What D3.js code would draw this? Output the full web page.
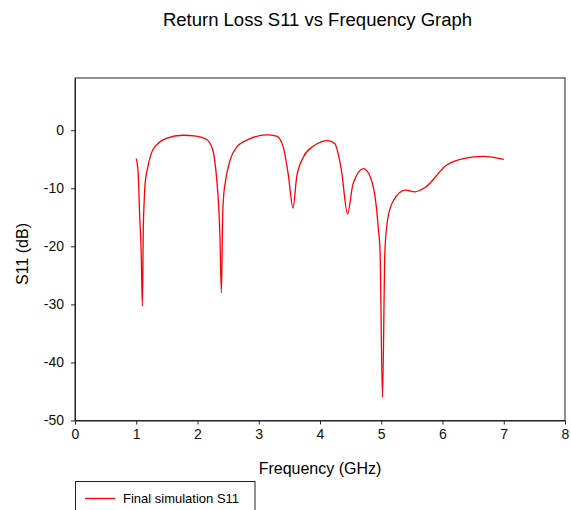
<!DOCTYPE html>
<html>
<head>
<meta charset="utf-8">
<script src="https://cdn.jsdelivr.net/npm/d3@7"></script>
<style>
  html, body { margin: 0; padding: 0; background: #fff; }
  svg { display: block; font-family: "Liberation Sans", Arial, sans-serif; }
</style>
</head>
<body>
<svg id="chart" width="571" height="510"></svg>
<script>
const title = "Return Loss S11 vs Frequency Graph";
const xLabel = "Frequency (GHz)";
const yLabel = "S11 (dB)";
const seriesName = "Final simulation S11";
const xTicks = [0, 1, 2, 3, 4, 5, 6, 7, 8];
const yTicks = [0, -10, -20, -30, -40, -50];

const freq = [1.00, 1.03, 1.057, 1.08, 1.10, 1.115, 1.13, 1.144, 1.19, 1.27, 1.49, 1.76, 1.98, 2.15, 2.25, 2.32, 2.34, 2.365, 2.39, 2.41, 2.43, 2.45, 2.53, 2.64, 2.85, 3.13, 3.29, 3.40, 3.48, 3.56, 3.62, 3.73, 3.89, 4.13, 4.24, 4.35, 4.45, 4.54, 4.71, 4.82, 4.92, 4.95, 4.98, 5.02, 5.06, 5.11, 5.20, 5.39, 5.55, 5.71, 6.07, 6.34, 6.67, 7.00];
const s11  = [-4.9, -7.2, -15.0, -20.7, -30.3, -17.0, -12.1, -9.2, -6.3, -3.4, -1.4, -0.86, -1.0, -1.6, -3.4, -9.2, -12.0, -17.8, -28.0, -15.0, -10.9, -9.2, -5.2, -2.9, -1.5, -0.8, -1.03, -2.9, -7.5, -13.4, -8.0, -4.6, -2.76, -1.78, -2.3, -6.9, -14.4, -9.2, -6.6, -8.0, -13.2, -16.7, -20.7, -46.0, -20.7, -15.0, -12.1, -10.3, -10.6, -9.9, -6.0, -4.9, -4.5, -5.0];

const data = freq.map((f, i) => ({ f, v: s11[i] }));

const svg = d3.select("#chart");
const pLeft = 75, pRight = 565, pTop = 78, pBottom = 420.5;

const x = d3.scaleLinear().domain([0, 8]).range([pLeft, pRight]);
const y = d3.scaleLinear().domain([-50, 9]).range([pBottom, pTop]);

// title
svg.append("text").attr("x", 317.5).attr("y", 26).attr("text-anchor", "middle")
  .attr("font-size", "18.5px").attr("fill", "#000").text(title);

// frame
svg.append("rect").attr("x", pLeft).attr("y", pTop).attr("width", pRight - pLeft).attr("height", pBottom - pTop)
  .attr("fill", "none").attr("stroke", "#222").attr("stroke-width", 1);

// axes
const xAxis = svg.append("g").attr("transform", `translate(0,${pBottom})`)
  .call(d3.axisBottom(x).tickValues(xTicks).tickFormat(d3.format("d")).tickSizeInner(4).tickSizeOuter(0).tickPadding(5));
const yAxis = svg.append("g").attr("transform", `translate(${pLeft},0)`)
  .call(d3.axisLeft(y).tickValues(yTicks).tickFormat(d => String(d)).tickSizeInner(4).tickSizeOuter(0).tickPadding(7));
[xAxis, yAxis].forEach(g => {
  g.select(".domain").attr("stroke", "#222");
  g.selectAll(".tick line").attr("stroke", "#222");
  g.selectAll(".tick text").attr("font-size", "14px").attr("fill", "#111")
    .attr("font-family", "'Liberation Sans', Arial, sans-serif");
});

// axis labels
svg.append("text").attr("x", 320).attr("y", 474).attr("text-anchor", "middle")
  .attr("font-size", "16px").attr("fill", "#000").text(xLabel);
svg.append("text").attr("transform", "translate(28,254) rotate(-90)").attr("text-anchor", "middle")
  .attr("font-size", "16px").attr("fill", "#000").text(yLabel);

// line
const line = d3.line().x(d => x(d.f)).y(d => y(d.v)).curve(d3.curveMonotoneX);
svg.append("path").datum(data).attr("d", line)
  .attr("fill", "none").attr("stroke", "#ff0000").attr("stroke-width", 1.3);

// legend
const lg = svg.append("g");
lg.append("rect").attr("x", 75.5).attr("y", 481.5).attr("width", 179.5).attr("height", 40)
  .attr("fill", "#fff").attr("stroke", "#222").attr("stroke-width", 1);
lg.append("line").attr("x1", 85).attr("x2", 115).attr("y1", 498.5).attr("y2", 498.5)
  .attr("stroke", "#ff0000").attr("stroke-width", 1.3);
lg.append("text").attr("x", 123).attr("y", 503).attr("font-size", "13px").attr("fill", "#000").text(seriesName);
</script>
</body>
</html>
